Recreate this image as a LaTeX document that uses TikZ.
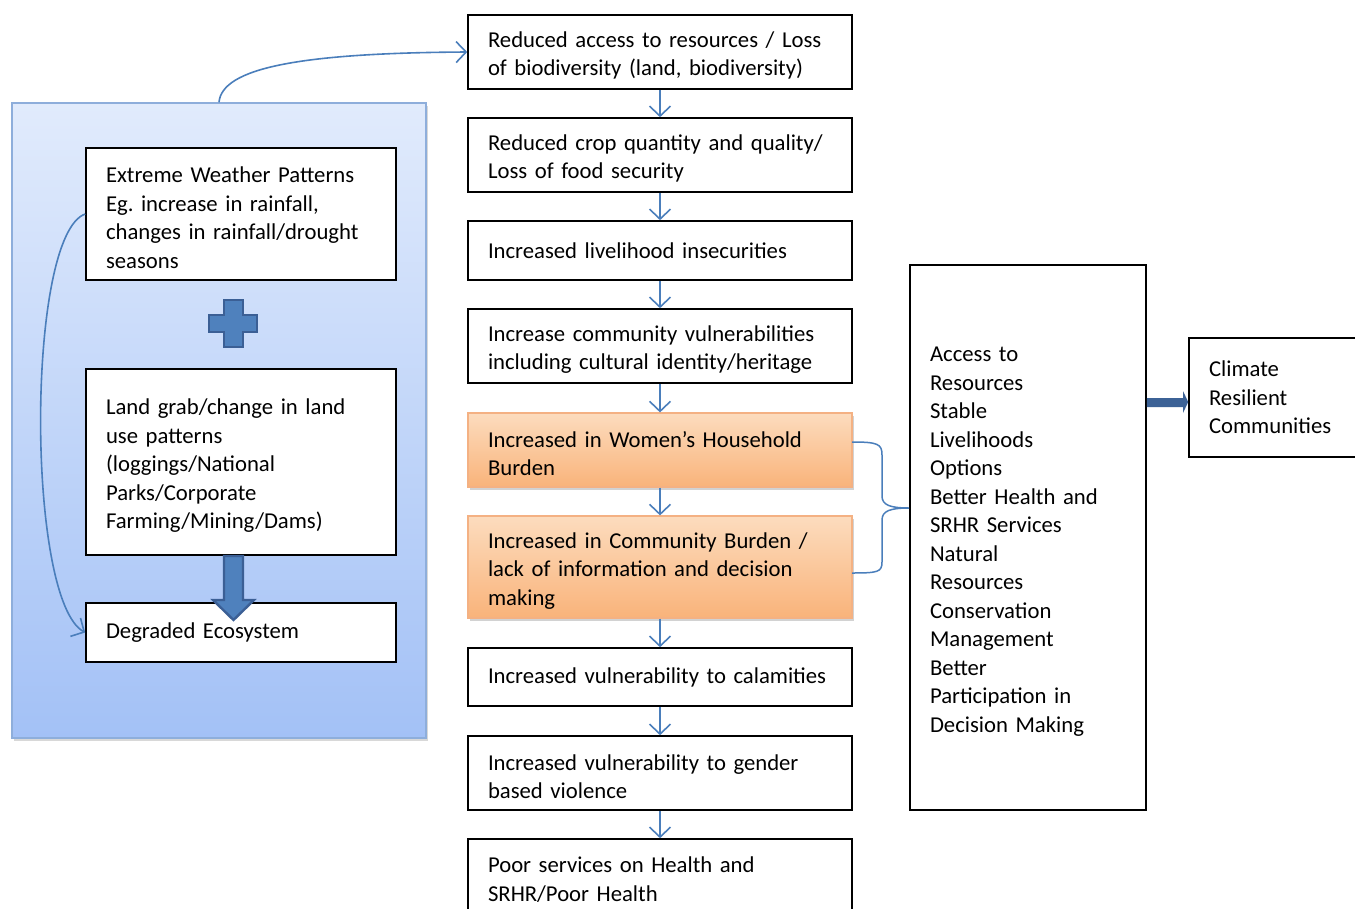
\documentclass[tikz,border=0pt]{standalone}
\usepackage{fontspec}
\setmainfont{Carlito}
\usetikzlibrary{arrows.meta,shadows}
\frenchspacing
\definecolor{arrowblue}{HTML}{4A7EBB}
\definecolor{fatfill}{HTML}{4F81BD}
\definecolor{fatline}{HTML}{3B5F95}
\definecolor{fatright}{HTML}{3C6296}
\definecolor{paneltop}{HTML}{E1EBFC}
\definecolor{panelbot}{HTML}{A3C1F6}
\definecolor{panelline}{HTML}{8EAEDB}
\definecolor{orgtop}{HTML}{FCDCBE}
\definecolor{orgbot}{HTML}{F9B37A}
\definecolor{orgline}{HTML}{F4B183}
\newcommand{\fs}{\fontsize{22.7}{28.5}\selectfont\hyphenpenalty=10000\exhyphenpenalty=10000}
\tikzset{
  wbox/.style={draw=black, line width=1.6pt, fill=white, align=left, inner xsep=20pt, inner ysep=0pt, font=\fs},
  obox/.style={draw=orgline, line width=1.2pt, top color=orgtop, bottom color=orgbot, align=left, inner xsep=20pt, inner ysep=0pt, font=\fs,
     drop shadow={shadow xshift=1.5pt, shadow yshift=-2.5pt, opacity=0.35}},
  multi/.style={execute at begin node={\rule{0pt}{23pt}}},
  mid/.style={minimum width=384pt, text width=344pt},
  lft/.style={minimum width=310pt, text width=270pt},
  conn/.style={draw=arrowblue, line width=1.6pt, -{Straight Barb[length=10pt,width=21pt,line width=1.6pt]}},
  fat/.style={draw=fatline, fill=fatfill, line width=2.4pt, line join=miter},
}
\begin{document}
\begin{tikzpicture}[x=1pt,y=-1pt]
\useasboundingbox (0,0) rectangle (1355,908);
\clip (0,0) rectangle (1355,908);
\fill[white] (0,0) rectangle (1355,908);

% left panel
\node[draw=panelline, line width=1.5pt, top color=paneltop, bottom color=panelbot,
      minimum width=414pt, minimum height=635pt, inner sep=0pt,
      drop shadow={shadow xshift=2pt, shadow yshift=-2.5pt, opacity=0.3}] (panel) at (219,420.5) {};

% left boxes
\node[wbox, lft, multi, minimum height=132pt] (ewp) at (241,214) {Extreme Weather Patterns\\Eg. increase in rainfall,\\changes in rainfall/drought\\seasons};
\node[wbox, lft, multi, minimum height=186pt] (land) at (241,462) {Land grab/change in land\\use patterns\\(loggings/National\\Parks/Corporate\\Farming/Mining/Dams)};
\node[wbox, lft, minimum height=59pt] (deg) at (241,632.5) {Degraded Ecosystem};

% plus sign
\draw[fat] (224,300) -- (243,300) -- (243,315) -- (257,315) -- (257,332) -- (243,332) -- (243,347) -- (224,347) -- (224,332) -- (209,332) -- (209,315) -- (224,315) -- cycle;

% middle column
\node[wbox, mid, multi, minimum height=74pt] (m1) at (660,52) {Reduced access to resources / Loss\\of biodiversity (land, biodiversity)};
\node[wbox, mid, multi, minimum height=74pt] (m2) at (660,155) {Reduced crop quantity and quality/\\Loss of food security};
\node[wbox, mid, minimum height=59pt] (m3) at (660,250.5) {Increased livelihood insecurities};
\node[wbox, mid, multi, minimum height=74pt] (m4) at (660,346) {Increase community vulnerabilities\\including cultural identity/heritage};
\node[obox, mid, multi, minimum height=74pt] (m5) at (660,450) {Increased in Women’s Household\\Burden};
\node[obox, mid, multi, minimum height=102pt] (m6) at (660,567) {Increased in Community Burden /\\lack of information and decision\\making};
\node[wbox, mid, minimum height=58pt] (m7) at (660,677) {Increased vulnerability to calamities};
\node[wbox, mid, multi, minimum height=74pt] (m8) at (660,773) {Increased vulnerability to gender\\based violence};
\node[wbox, mid, multi, minimum height=74pt] (m9) at (660,876) {Poor services on Health and\\SRHR/Poor Health};

\foreach \a/\b in {m1/m2,m2/m3,m3/m4,m4/m5,m5/m6,m6/m7,m7/m8,m8/m9}
  \draw[conn] (\a.south) -- (\b.north);

% right boxes
\node[wbox, multi, minimum width=236pt, text width=196pt, minimum height=545pt] (res) at (1028,537.5)
  {Access to\\Resources\\Stable\\Livelihoods\\Options\\Better Health and\\SRHR Services\\Natural\\Resources\\Conservation\\Management\\Better\\Participation in\\Decision Making};
\node[wbox, minimum width=174pt, text width=134pt, minimum height=119pt] (cli) at (1276,397.5)
  {Climate\\Resilient\\Communities};

% brace
\coordinate (btip) at (res.west |- 0,508);
\draw[arrowblue, line width=1.5pt] (852,442) .. controls (878,442) and (882,444) .. (882,455) -- (882,496)
   .. controls (882,505) and (890,508) .. (btip)
   .. controls (890,508) and (882,511) .. (882,520) -- (882,562)
   .. controls (882,572) and (878,573) .. (852,573);

% curved connectors
\draw[conn] (panel.north) .. controls (222,68) and (300,53) .. (m1.west);
\draw[conn] (ewp.west) .. controls (26,235) and (26,600) .. (deg.west);

% fat arrow land -> degraded
\draw[fat] (224,556) -- (243,556) -- (243,600) -- (254,600) -- (233.5,620) -- (213,600) -- (224,600) -- cycle;

% fat arrow right
\fill[fatright] (res.east |- 0,398) -- (1183,398) -- (1183,391) -- (cli.west |- 0,402) -- (1183,413) -- (1183,407) -- (res.east |- 0,407) -- cycle;
\end{tikzpicture}
\end{document}
